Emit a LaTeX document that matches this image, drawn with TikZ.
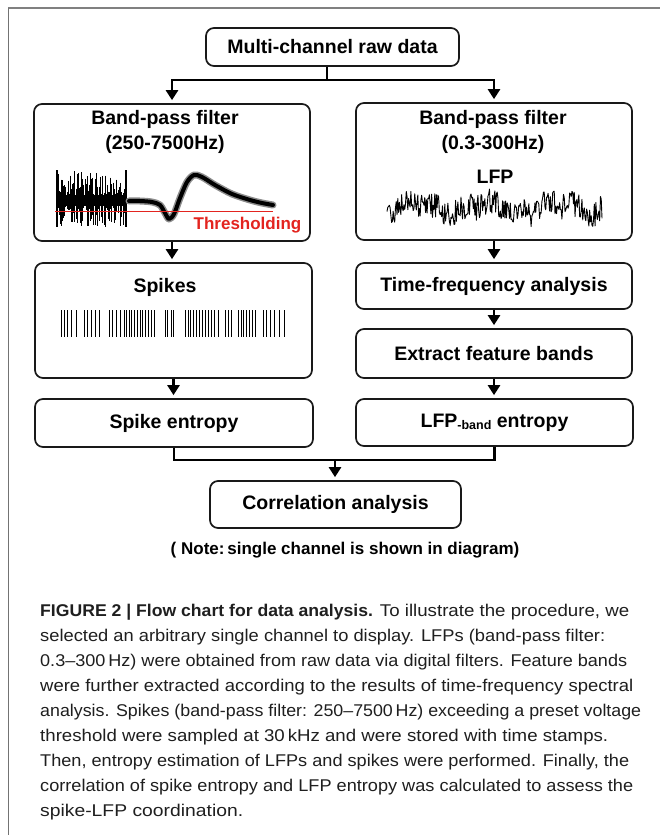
\documentclass[tikz,border=0pt]{standalone}
\usepackage{fontspec}
\usepackage{graphicx}
\setmainfont{Liberation Sans}
\newfontfamily\capfont[FakeStretch=1.05, BoldFeatures={FakeStretch=0.99}]{Liberation Sans}
\usetikzlibrary{arrows.meta}
\definecolor{thr}{HTML}{E3241F}
\newcommand{\capline}[2]{\resizebox{#1bp}{\height}{#2}}
\begin{document}
\begin{tikzpicture}[x=1bp,y=-1bp,
  box/.style={draw=black!90, line width=1.7bp, rounded corners=8bp, inner sep=0pt},
  lbl/.style={font=\fontsize{19.5bp}{22bp}\selectfont\bfseries, inner sep=0pt},
  arr/.style={line width=2.7bp, -{Triangle[length=10bp,width=12bp]}, shorten >=3bp},
  con/.style={line width=2.7bp},
  capl/.style={anchor=base west, inner sep=0pt, text=black!88, font=\capfont\fontsize{17bp}{20bp}\selectfont}]
\useasboundingbox (0,0) rectangle (660,835);
\fill[white] (0,0) rectangle (660,835);
% frame
\draw[black!50, line width=2bp] (8,8) -- (660,8);
\draw[black!55, line width=1bp] (8,8) -- (8,835);

% boxes
\node[box,lbl,minimum width=253bp,minimum height=38bp] (raw) at (332.5,47) {Multi-channel raw data};
\node[box,minimum width=276bp,minimum height=137bp] (bpL) at (172,172.5) {};
\node[box,minimum width=276bp,minimum height=137bp] (bpR) at (494,171.5) {};
\node[box,minimum width=277bp,minimum height=115bp] (spk) at (173.5,320.5) {};
\node[box,lbl,minimum width=276bp,minimum height=46bp] (tf) at (494,286) {Time-frequency analysis};
\node[box,lbl,minimum width=276bp,minimum height=49bp] (efb) at (494,353.5) {Extract feature bands};
\node[box,lbl,minimum width=278bp,minimum height=48bp] (sent) at (174,423) {Spike entropy};
\node[box,lbl,minimum width=277bp,minimum height=47bp] (lent) at (494.5,422.5) {LFP\raisebox{-2bp}{\fontsize{12.5bp}{14bp}\selectfont -band} entropy};
\node[box,lbl,minimum width=251bp,minimum height=47bp] (corr) at (335.5,504.5) {Correlation analysis};

% texts inside tall boxes
\node[lbl] (bpLt1) at (165,119) {Band-pass filter};
\node[lbl] (bpLt2) at (165,144) {(250-7500Hz)};
\node[lbl] (bpRt1) at (493,119) {Band-pass filter};
\node[lbl] (bpRt2) at (493,144) {(0.3-300Hz)};
\node[lbl] (lfpt) at (495,177) {LFP};
\node[lbl] (spkt) at (165,287) {Spikes};
\node[lbl, text=thr, font=\fontsize{17bp}{19bp}\selectfont\bfseries] (thrt) at (247.5,225.5) {Thresholding};

% spike burst
\pgfmathsetseed{7}
\fill[black] (57,194.5) rectangle (126,205.5);
\foreach \i in {0,...,60} {
  \pgfmathsetmacro\xx{58+\i*1.12}
  \pgfmathsetmacro\up{5+24*rnd}
  \pgfmathsetmacro\dn{5+22*rnd}
  \draw[line width=0.7bp] (\xx,200-\up) -- (\xx,200+\dn);
}
\draw[line width=1.6bp] (57,170) -- (57,227);
\draw[line width=1.6bp] (126,170) -- (126,227);
% averaged spike waveform
\def\wave{(129,201) (140,201) (152,202) (160,205) (165,213) (169,219) (174,214) (180,198) (187,182) (194,175) (202,177) (215,185) (232,194) (250,200) (262,203) (273,205)}
\draw[black!45, line width=7bp, line join=round, line cap=round] plot[smooth] coordinates {\wave};
\draw[black, line width=4bp, line join=round, line cap=round] plot[smooth] coordinates {\wave};
% threshold line
\draw[thr, line width=1.3bp] (55,211.5) -- (273,211.5);

% LFP trace
\pgfmathsetseed{11}
\draw[line width=0.9bp, line join=round] plot[domain=387:602, samples=280] (\x,{208+13*rand+5*sin(5*\x)+3*sin(13*\x)});

% spike raster
\foreach \p in {61,64,67,71,76, 84,87,91,95,99, 109,112,116,120, 124,126,129,131,134,137,140,142,145,148,151,154, 165,167,171,173, 185,188,190,193,196,199,202,205,208,211,214,218, 225,228,231, 238,241,243,246,249,252,255, 263,266,270,274,279,284}
  \draw[line width=0.9bp] (\p,310) -- (\p,337);

% connectors
\coordinate (j1) at (327,80);
\draw[con] (raw.south -| j1) -- (j1);
\draw[arr] (j1) -| (bpL.north);
\draw[arr] (j1) -| (bpR.north);
\draw[arr] (bpL.south) -- (spk.north -| bpL.south);
\draw[arr] (bpR.south) -- (tf.north);
\draw[arr] (tf.south) -- (efb.north);
\draw[arr] (spk.south) -- (sent.north -| spk.south);
\draw[arr] (efb.south) -- (lent.north -| efb.south);
\coordinate (j2) at (335,460);
\draw[con] (sent.south) |- (j2);
\draw[con] (lent.south) |- (j2);
\draw[arr] (j2) -- (corr.north -| j2);

% note
\node[inner sep=0pt, font=\fontsize{17bp}{19bp}\selectfont\bfseries] (note) at (345,550) {( Note:\,single channel is shown in diagram)};

% caption
\node[capl] (c1) at (40,616) {\capline{589}{\textbf{FIGURE 2 | Flow chart for data analysis.} To illustrate the procedure, we}};
\node[capl] (c2) at (40,641.1) {\capline{565}{selected an arbitrary single channel to display. LFPs (band-pass filter:}};
\node[capl] (c3) at (40,666.2) {\capline{587}{0.3–300\,Hz) were obtained from raw data via digital filters. Feature bands}};
\node[capl] (c4) at (40,691.3) {\capline{593}{were further extracted according to the results of time-frequency spectral}};
\node[capl] (c5) at (40,716.4) {\capline{601}{analysis. Spikes (band-pass filter: 250–7500\,Hz) exceeding a preset voltage}};
\node[capl] (c6) at (40,741.5) {\capline{568}{threshold were sampled at 30\,kHz and were stored with time stamps.}};
\node[capl] (c7) at (40,766.6) {\capline{589}{Then, entropy estimation of LFPs and spikes were performed. Finally, the}};
\node[capl] (c8) at (40,791.7) {\capline{593}{correlation of spike entropy and LFP entropy was calculated to assess the}};
\node[capl] (c9) at (40,816.8) {\capline{203}{spike-LFP coordination.}};
\end{tikzpicture}
\end{document}
